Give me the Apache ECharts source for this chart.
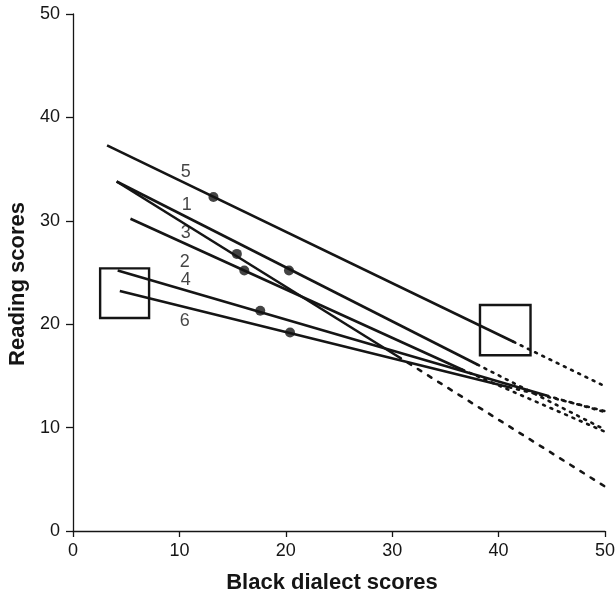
<!DOCTYPE html>
<html><head><meta charset="utf-8">
<script src="https://cdn.jsdelivr.net/npm/echarts@6/dist/echarts.min.js"></script>
<style>html,body{margin:0;padding:0;background:#fff}#c{width:615px;height:596px}</style>
</head><body><div id="c"></div>
<script>
// ---- data ----
const xTicks = [0, 10, 20, 30, 40, 50];
const yTicks = [0, 10, 20, 30, 40, 50];
// regression lines: solid part, then dotted extrapolation
const line5Solid = [[3.2, 37.3], [41.4, 18.3]];
const line5Ext   = [[41.4, 18.3], [50, 14.0]];
const line1Solid = [[4.1, 33.8], [38.0, 16.1]];
const line1Ext   = [[38.0, 16.1], [50, 9.8]];
const line2Solid = [[4.1, 33.8], [30.5, 16.9]];
const line2Ext   = [[30.5, 16.9], [50, 4.3]];
const line3Solid = [[5.4, 30.2], [36.6, 15.6]];
const line3Ext   = [[36.6, 15.6], [50, 9.6]];
const line4Solid = [[4.2, 25.2], [44.5, 13.1]];
const line4Ext   = [[44.5, 13.1], [50, 11.5]];
const line6Solid = [[4.4, 23.2], [41.0, 13.9]];
const line6Ext   = [[41.0, 13.9], [50, 11.6]];
// group mean points
const dotX = [13.2, 15.4, 20.3, 16.1, 17.6, 20.4];
const dotY = [32.3, 26.8, 25.2, 25.2, 21.3, 19.2];
// line labels
const labelText = ['5', '1', '3', '2', '4', '6'];
const labelX = [10.6, 10.7, 10.6, 10.5, 10.6, 10.5];
const labelY = [34.7, 31.5, 28.8, 26.0, 24.3, 20.3];
// boxes [x1,y1],[x2,y2]
const boxLeft  = [[2.55, 25.4], [7.15, 20.6]];
const boxRight = [[38.25, 21.85], [43.0, 17.0]];

// ---- chart ----
const ink = '#151515';
const font = '"Liberation Sans", Arial, Helvetica, sans-serif';
const chart = echarts.init(document.getElementById('c'));
function solid(d) {
  return { type: 'line', data: d, symbol: 'none', silent: true,
    lineStyle: { color: ink, width: 2.6, type: 'solid' } };
}
function dotted(d, dash) {
  return { type: 'line', data: d, symbol: 'none', silent: true,
    lineStyle: { color: ink, width: 2.6, type: dash, cap: 'round' } };
}
const series = [
  solid(line5Solid), dotted(line5Ext, [2, 6]),
  solid(line1Solid), dotted(line1Ext, [2, 6]),
  solid(line2Solid), dotted(line2Ext, [4, 8]),
  solid(line3Solid), dotted(line3Ext, [2, 6]),
  solid(line4Solid), dotted(line4Ext, [2, 6]),
  solid(line6Solid), dotted(line6Ext, [2, 6]),
  { type: 'scatter', data: dotX.map((x, i) => [x, dotY[i]]), symbol: 'circle', symbolSize: 10,
    itemStyle: { color: ink }, silent: true, z: 5 },
  { type: 'scatter', data: labelX.map((x, i) => [x, labelY[i], labelText[i]]), symbolSize: 0,
    silent: true,
    label: { show: true, position: 'inside', formatter: p => p.value[2],
      color: ink, fontSize: 18, fontFamily: font } },
  { type: 'line', data: [], silent: true,
    markArea: { silent: true,
      itemStyle: { color: 'rgba(0,0,0,0)', borderColor: ink, borderWidth: 2.4 },
      data: [
        [{ coord: boxLeft[0] }, { coord: boxLeft[1] }],
        [{ coord: boxRight[0] }, { coord: boxRight[1] }]
      ] } }
];

chart.setOption({
  animation: false,
  backgroundColor: '#fff',
  grid: { left: 73, right: 10, top: 14, bottom: 65, containLabel: false, outerBoundsMode: 'none' },
  xAxis: {
    type: 'value', min: xTicks[0], max: xTicks[xTicks.length - 1], interval: 10,
    splitLine: { show: false },
    axisLine: { lineStyle: { color: ink, width: 1.3 } },
    axisTick: { inside: false, length: 6, lineStyle: { color: ink, width: 1.3 } },
    axisLabel: { color: ink, fontSize: 18, margin: 11, fontFamily: font },
    name: 'Black dialect scores', nameLocation: 'middle', nameGap: 41,
    nameTextStyle: { color: ink, fontSize: 22, fontWeight: 'bold', fontFamily: font,
      padding: [0, 14, 0, 0] }
  },
  yAxis: {
    type: 'value', min: yTicks[0], max: yTicks[yTicks.length - 1], interval: 10,
    splitLine: { show: false },
    axisLine: { show: true, lineStyle: { color: ink, width: 1.3 } },
    axisTick: { show: true, inside: false, length: 7, lineStyle: { color: ink, width: 1.3 } },
    axisLabel: { color: ink, fontSize: 18, margin: 13, fontFamily: font }
  },
  graphic: [{
    type: 'text', x: 18, y: 284, rotation: Math.PI / 2,
    style: { text: 'Reading scores', fill: ink, align: 'center', verticalAlign: 'middle',
      font: 'bold 22px ' + font }
  }],
  series: series
});
</script>
</body></html>
